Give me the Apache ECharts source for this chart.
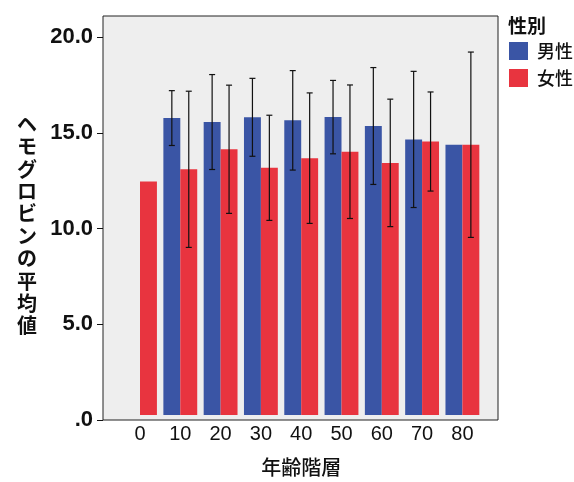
<!DOCTYPE html>
<html>
<head>
<meta charset="utf-8">
<script src="https://cdn.jsdelivr.net/npm/echarts@6/dist/echarts.min.js"></script>
<style>
html,body{margin:0;padding:0;background:#fff;}
#c{width:574px;height:482px;}
</style>
</head>
<body>
<div id="c"></div>
<script>
// ---- data ----
const categories = ['0', '10', '20', '30', '40', '50', '60', '70', '80'];
const maleMean   = [null, 15.70, 15.49, 15.74, 15.58, 15.75, 15.28, 14.57, 14.29];
const femaleMean = [12.34, 12.99, 14.05, 13.07, 13.58, 13.92, 13.33, 14.46, 14.29];
const maleErr    = [null, 1.45, 2.51, 2.06, 2.63, 1.94, 3.09, 3.60, null];
const femaleErr  = [null, 4.13, 3.39, 2.78, 3.45, 3.53, 3.37, 2.62, 4.90];
const yTicks = [0, 5, 10, 15, 20];
const seriesNames = ['男性', '女性'];
const legendTitle = '性別';
const yTitle = 'ヘモグロビンの平均値';
const xTitle = '年齢階層';

// ---- layout ----
const plotLeft = 103, plotTop = 16, plotW = 395, plotH = 404;
const zeroY = 420, twentyY = 37;
const yMaxData = 20 * (zeroY - plotTop) / (zeroY - twentyY);
const catW = 40.3, firstCenter = 140;
const dataLeft = firstCenter - catW / 2, dataW = catW * categories.length;
const barCatGap = 0.16;

const errData = [];
[maleMean, femaleMean].forEach((m, s) => {
  const e = s === 0 ? maleErr : femaleErr;
  m.forEach((v, i) => {
    if (v != null && e[i] != null) errData.push([i, v - e[i], v + e[i], s]);
  });
});

const cjk = '"Noto Sans CJK JP", "Noto Sans", sans-serif';
const latin = '"Liberation Sans", Arial, sans-serif';

const chart = echarts.init(document.getElementById('c'));
chart.setOption({
  animation: false,
  backgroundColor: '#ffffff',
  title: {
    text: legendTitle, left: 503, top: 11,
    textStyle: { fontFamily: cjk, fontSize: 19, fontWeight: 'bold', color: '#111' }
  },
  legend: {
    data: seriesNames, orient: 'vertical', left: 504, top: 37,
    icon: 'rect', itemWidth: 19, itemHeight: 18, itemGap: 9,
    textStyle: { fontFamily: cjk, fontSize: 18, fontWeight: 500, color: '#111', padding: [0, 0, 0, 4] }
  },
  grid: [
    { left: plotLeft, top: plotTop, width: plotW, height: plotH, show: true,
      backgroundColor: '#eeeeee', borderColor: '#222', borderWidth: 1 },
    { left: dataLeft, top: plotTop, width: dataW, height: plotH },
    { left: plotLeft, top: twentyY, width: plotW, height: zeroY - twentyY }
  ],
  xAxis: [
    { gridIndex: 0, type: 'value', show: false, min: 0, max: 1 },
    { gridIndex: 1, type: 'category', data: categories,
      axisLine: { show: false },
      axisTick: { alignWithLabel: true, length: 5, lineStyle: { color: '#111' } },
      axisLabel: { fontFamily: latin, fontSize: 20, color: '#111', margin: 9 },
      name: xTitle, nameLocation: 'middle', nameGap: 42,
      nameTextStyle: { fontFamily: cjk, fontSize: 20, fontWeight: 500, color: '#111' } },
    { gridIndex: 2, type: 'value', show: false, min: 0, max: 1 }
  ],
  yAxis: [
    { gridIndex: 0, type: 'value', show: false, min: 0, max: 1 },
    { gridIndex: 1, type: 'value', show: false, min: 0, max: yMaxData },
    { gridIndex: 2, type: 'value', min: yTicks[0], max: yTicks[yTicks.length - 1], interval: 5,
      axisLine: { show: false },
      splitLine: { show: false },
      axisTick: { show: true, length: 6, lineStyle: { color: '#111' } },
      axisLabel: { fontFamily: latin, fontSize: 22, fontWeight: 'bold', color: '#111', margin: 10,
        formatter: v => v === 0 ? '.0' : v.toFixed(1) } }
  ],
  graphic: [{
    type: 'text', left: 17, top: 113,
    style: { text: yTitle.split('').join('\n'), fontFamily: cjk, fontSize: 20, fontWeight: 'bold',
      lineHeight: 22.4, fill: '#111', textAlign: 'center' }
  }],
  series: [
    { name: seriesNames[0], type: 'bar', xAxisIndex: 1, yAxisIndex: 1, data: maleMean,
      barGap: '0%', barCategoryGap: (barCatGap * 100) + '%', itemStyle: { color: '#3a55a5' } },
    { name: seriesNames[1], type: 'bar', xAxisIndex: 1, yAxisIndex: 1, data: femaleMean,
      barGap: '0%', barCategoryGap: (barCatGap * 100) + '%', itemStyle: { color: '#e8343f' } },
    { type: 'custom', xAxisIndex: 1, yAxisIndex: 1, data: errData, z: 10, silent: true,
      renderItem: function (params, api) {
        const i = api.value(0), lo = api.value(1), hi = api.value(2), s = api.value(3);
        const band = api.size([1, 0])[0];
        const barW = band * (1 - barCatGap) / 2;
        const dx = (s === 0 ? -0.5 : 0.5) * barW;
        const pLo = api.coord([i, lo]), pHi = api.coord([i, hi]);
        const x = pLo[0] + dx, cap = 3;
        const st = { stroke: '#111', lineWidth: 1.2 };
        return { type: 'group', children: [
          { type: 'line', shape: { x1: x, y1: pLo[1], x2: x, y2: pHi[1] }, style: st },
          { type: 'line', shape: { x1: x - cap, y1: pLo[1], x2: x + cap, y2: pLo[1] }, style: st },
          { type: 'line', shape: { x1: x - cap, y1: pHi[1], x2: x + cap, y2: pHi[1] }, style: st }
        ] };
      } }
  ]
});
</script>
</body>
</html>
